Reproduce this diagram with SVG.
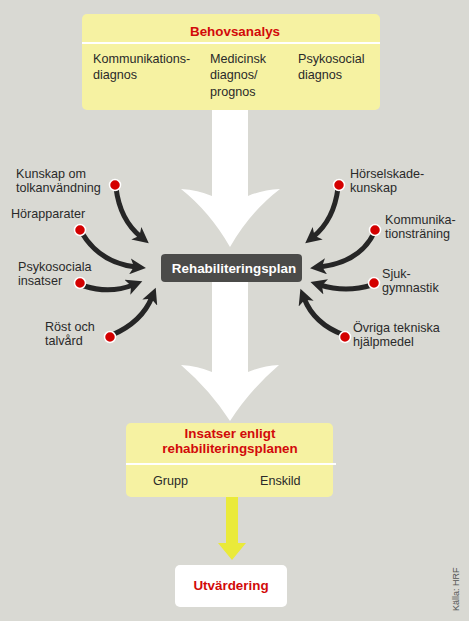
<svg xmlns="http://www.w3.org/2000/svg" width="469" height="621" viewBox="0 0 469 621">
<defs>
<style>
.t{font-family:"Liberation Sans",Arial,sans-serif;font-size:12.6px;fill:#2a2a2a}
.h{font-family:"Liberation Sans",Arial,sans-serif;font-size:13.4px;font-weight:bold;fill:#d20a0a;text-anchor:middle}
.ybox{fill:#f6f2a2}
.div{stroke:#ffffff;stroke-width:2}
.con{fill:none;stroke:#262626;stroke-width:5;stroke-linecap:round}
.dot{fill:#d40000;stroke:#ffffff;stroke-width:1.5}
.big{fill:#ffffff}
</style>
<marker id="ah" markerUnits="userSpaceOnUse" markerWidth="18" markerHeight="16" refX="6" refY="8" orient="auto" viewBox="0 0 18 16">
<path d="M0,0 L16,8 L0,16 L4,8 Z" fill="#262626"/>
</marker>
</defs>
<rect width="469" height="621" fill="#d9d9d3"/>

<g id="arrows-main">
<path class="big" d="M212,108 L248,108 L248,196 Q262,190 280,189 Q250,212 230,247 Q210,212 181,189 Q198,190 212,196 Z"/>
<path class="big" d="M212,280 L248,280 L248,372 Q262,366 279,365 Q250,390 230,421 Q210,390 181,365 Q198,366 212,372 Z"/>
<path fill="#eaea3a" d="M226,496 L238,496 L238,543 L246,543 L232,560 L218,543 L226,543 Z"/>
</g>

<g id="behovsanalys">
<rect class="ybox" x="82" y="14" width="298" height="96" rx="5"/>
<line class="div" x1="82" y1="43" x2="380" y2="43"/>
<text class="h" x="235" y="36">Behovsanalys</text>
<text class="t" x="93" y="63">Kommunikations-</text>
<text class="t" x="93" y="79">diagnos</text>
<text class="t" x="210" y="63">Medicinsk</text>
<text class="t" x="210" y="79">diagnos/</text>
<text class="t" x="210" y="96">prognos</text>
<text class="t" x="298" y="63">Psykosocial</text>
<text class="t" x="298" y="79">diagnos</text>
</g>

<g id="rehabiliteringsplan">
<rect x="161" y="254" width="141" height="28" rx="4" fill="#4b4b49"/>
<text x="234" y="273" font-family="Liberation Sans,Arial,sans-serif" font-size="13.4" font-weight="bold" fill="#ffffff" text-anchor="middle">Rehabiliteringsplan</text>
</g>

<g id="connectors">
<path class="con" marker-end="url(#ah)" d="M116,188 Q120,220 141,237"/>
<path class="con" marker-end="url(#ah)" d="M82,233 Q100,263 136,267"/>
<path class="con" marker-end="url(#ah)" d="M84,286 Q110,294 133,285"/>
<path class="con" marker-end="url(#ah)" d="M112,335 Q142,322 152,297"/>
<path class="con" marker-end="url(#ah)" d="M338,188 Q334,220 313,237"/>
<path class="con" marker-end="url(#ah)" d="M374,233 Q360,262 320,267"/>
<path class="con" marker-end="url(#ah)" d="M372,285 Q346,293 320,285"/>
<path class="con" marker-end="url(#ah)" d="M344,335 Q314,324 304,298"/>
</g>

<g id="kunskap"><circle class="dot" cx="115" cy="185" r="5.5"/><text class="t" x="16" y="178">Kunskap om</text><text class="t" x="16" y="192">tolkanvändning</text></g>
<g id="horapparater"><circle class="dot" cx="80" cy="230" r="5.5"/><text class="t" x="11" y="218">Hörapparater</text></g>
<g id="psykosociala"><circle class="dot" cx="80" cy="283" r="5.5"/><text class="t" x="18" y="271">Psykosociala</text><text class="t" x="18" y="285">insatser</text></g>
<g id="rost"><circle class="dot" cx="110" cy="337" r="5.5"/><text class="t" x="45" y="331">Röst och</text><text class="t" x="45" y="345">talvård</text></g>
<g id="horselskade"><circle class="dot" cx="339" cy="185" r="5.5"/><text class="t" x="350" y="178">Hörselskade-</text><text class="t" x="350" y="192">kunskap</text></g>
<g id="kommunika"><circle class="dot" cx="375" cy="230" r="5.5"/><text class="t" x="385" y="224">Kommunika-</text><text class="t" x="385" y="238">tionsträning</text></g>
<g id="sjuk"><circle class="dot" cx="374" cy="283" r="5.5"/><text class="t" x="382" y="278">Sjuk-</text><text class="t" x="382" y="292">gymnastik</text></g>
<g id="ovriga"><circle class="dot" cx="345" cy="337" r="5.5"/><text class="t" x="353" y="332">Övriga tekniska</text><text class="t" x="353" y="346">hjälpmedel</text></g>

<g id="insatser">
<rect class="ybox" x="126" y="423" width="207" height="74" rx="5"/>
<line class="div" x1="126" y1="464" x2="336" y2="464"/>
<text class="h" x="230" y="438">Insatser enligt</text>
<text class="h" x="230" y="453">rehabiliteringsplanen</text>
<text class="t" x="153" y="485">Grupp</text>
<text class="t" x="260" y="485">Enskild</text>
</g>

<g id="utvardering">
<rect x="175" y="565" width="112" height="42" rx="5" fill="#ffffff"/>
<text class="h" x="231" y="590">Utvärdering</text>
</g>

<text x="459" y="611" transform="rotate(-90 459 611)" font-family="Liberation Sans,Arial,sans-serif" font-size="9" fill="#555555">Källa: HRF</text>
</svg>
